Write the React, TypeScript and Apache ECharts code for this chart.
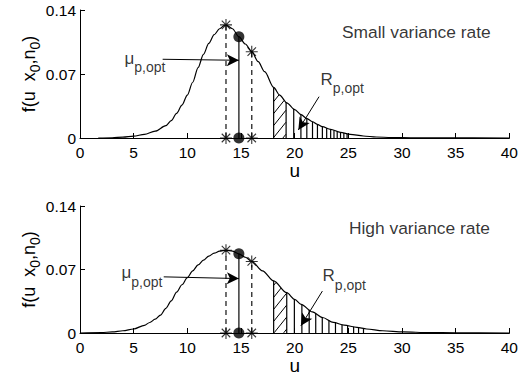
import React, { useEffect, useRef } from 'react';
import * as echarts from 'echarts';

// ---------- data ----------
const xTickStep = 5;
const yTickStep = 0.07;

// Top panel: small variance rate
const topU = [1.7, 3, 4, 5, 6, 7, 8, 8.5, 9, 9.5, 10, 10.5, 11, 11.5, 12, 12.5, 13, 13.5, 13.6, 14.2, 14.8, 15.4, 16.0, 16.6, 17.2, 18.04, 18.6, 19.26, 20.0, 20.6, 21.1, 21.66, 22.1, 22.57, 23.34, 24.26, 25.18, 26.4, 27.6, 29, 31, 34, 40];
const topF = [0, 0.0003, 0.0009, 0.002, 0.004, 0.0075, 0.0135, 0.019, 0.027, 0.036, 0.047, 0.061, 0.077, 0.0915, 0.1035, 0.113, 0.1195, 0.1235, 0.1237, 0.1195, 0.1108, 0.1028, 0.0944, 0.0835, 0.0725, 0.0554, 0.047, 0.0385, 0.031, 0.0255, 0.0215, 0.0178, 0.015, 0.0124, 0.0095, 0.0062, 0.004, 0.0022, 0.0011, 0.0005, 0.0002, 0.0001, 0];

// Bottom panel: high variance rate
const botU = [0, 2, 3, 4, 5, 6, 6.5, 7, 7.5, 8, 8.5, 9, 9.5, 10, 10.5, 11, 11.5, 12, 12.5, 13, 13.6, 14.2, 14.8, 15.4, 16.0, 17.0, 18.04, 19.26, 20.0, 20.6, 21.65, 22.6, 23.6, 24.6, 25.8, 26.7, 28.2, 30.1, 32.5, 35, 40];
const botF = [0, 0.0005, 0.0012, 0.0025, 0.0044, 0.0085, 0.0116, 0.0152, 0.0198, 0.0272, 0.0355, 0.045, 0.0532, 0.061, 0.0685, 0.075, 0.0803, 0.0848, 0.088, 0.0902, 0.0913, 0.0903, 0.0873, 0.0835, 0.0789, 0.0685, 0.0575, 0.0444, 0.0371, 0.0316, 0.0232, 0.0171, 0.0117, 0.0087, 0.0062, 0.0044, 0.0025, 0.0012, 0.0005, 0.0002, 0];

const starU = [13.6, 16.0];
const optU = 14.8;

const topHatchU = [18.04, 19.2, 19.91, 20.58, 21.13, 21.66, 22.12, 22.58, 22.98, 23.35, 23.66, 23.96, 24.27, 24.58, 24.88];
const botHatchU = [18.04, 19.26, 19.97, 20.67, 21.35, 21.96, 22.57, 23.19, 23.8, 24.41, 24.93, 25.49, 25.95, 26.41];

const titles = ['Small variance rate', 'High variance rate'];
const titlePos = [[24.4, 0.116], [25.05, 0.1157]];
const muLabelPos = [[4.15, 0.0875], [3.87, 0.0666]];
const muArrows = [[[7.7, 0.0861], [14.8, 0.085]], [[7.8, 0.0619], [14.8, 0.06]]];
const rLabelPos = [[22.4, 0.0645], [22.6, 0.0633]];
const rArrows = [[[22.27, 0.0452], [20.34, 0.0088]], [[22.58, 0.0462], [20.58, 0.008]]];

const FONT = '"Liberation Sans", Arial, Helvetica, sans-serif';

function interp(us: number[], fs: number[], u: number): number {
  if (u <= us[0]) return fs[0];
  for (let i = 1; i < us.length; i++) {
    if (u <= us[i]) {
      const t = (u - us[i - 1]) / (us[i] - us[i - 1]);
      return fs[i - 1] + t * (fs[i] - fs[i - 1]);
    }
  }
  return fs[fs.length - 1];
}

const STAR = 'path://M0,-10L0,10M-10,0L10,0M-7.07,-7.07L7.07,7.07M-7.07,7.07L7.07,-7.07';

function panelSeries(idx: number, U: number[], F: number[], hatch: number[]) {
  const ax = { xAxisIndex: idx, yAxisIndex: idx };
  const curve = U.map((u, i) => [u, F[i]]);
  const stars = starU.flatMap((u) => [[u, interp(U, F, u)], [u, 0]]);
  const dots = [[optU, interp(U, F, optU)], [optU, 0]];
  const vline = (color: string, width: number, dash: number[] | null) => (params: any, api: any) => {
    const u = api.value(0);
    const f = api.value(1);
    const p0 = api.coord([u, 0]);
    const p1 = api.coord([u, f]);
    return {
      type: 'line',
      shape: { x1: p0[0], y1: p0[1], x2: p1[0], y2: p1[1] },
      style: { stroke: color, lineWidth: width, lineDash: dash || undefined },
    };
  };
  return [
    {
      type: 'custom', ...ax, silent: true, z: 2,
      encode: { x: 0, y: 1 },
      data: hatch.map((u) => [u, interp(U, F, u)]),
      renderItem: vline('#000', 1.2, null),
    },
    {
      type: 'custom', ...ax, silent: true, z: 2,
      encode: { x: [0, 1] },
      data: [[hatch[0], hatch[1]]],
      renderItem: (params: any, api: any) => {
        const uA = api.value(0);
        const uB = api.value(1);
        const pa = api.coord([uA, 0]);
        const pb = api.coord([uB, 0]);
        const xa = pa[0], xb = pb[0], y0 = pa[1];
        const curveY = (px: number) => {
          const u = uA + ((px - xa) / (xb - xa)) * (uB - uA);
          return api.coord([u, interp(U, F, u)])[1];
        };
        const s = 1.25;
        const children: any[] = [];
        const topLeft = curveY(xa);
        for (let c = y0 + s * (xb - xa) - 4; c > topLeft - 2; c -= 12) {
          let first: number[] | null = null;
          let last: number[] | null = null;
          for (let x = xa; x <= xb + 0.01; x += 0.25) {
            const y = c - s * (x - xa);
            if (y <= y0 + 0.01 && y >= curveY(x) - 0.01) {
              if (!first) first = [x, y];
              last = [x, y];
            }
          }
          if (first && last && last[0] - first[0] > 0.5) {
            children.push({ type: 'line', shape: { x1: first[0], y1: first[1], x2: last[0], y2: last[1] }, style: { stroke: '#000', lineWidth: 1 } });
          }
        }
        return { type: 'group', children };
      },
    },
    {
      type: 'custom', ...ax, silent: true, z: 3,
      encode: { x: 0, y: 1 },
      data: starU.map((u) => [u, interp(U, F, u)]),
      renderItem: vline('#333', 1.4, [5, 4]),
    },
    {
      type: 'custom', ...ax, silent: true, z: 3,
      encode: { x: 0, y: 1 },
      data: [[optU, interp(U, F, optU)]],
      renderItem: vline('#444', 1.6, null),
    },
    {
      type: 'line', ...ax, data: curve, showSymbol: false, smooth: 0.3, smoothMonotone: 'x',
      lineStyle: { color: '#000', width: 1.2 }, z: 4, silent: true,
      markLine: {
        silent: true, symbol: ['none', 'arrow'], symbolSize: [9, 12],
        label: { show: false },
        lineStyle: { color: '#000', width: 1, type: 'solid' },
        data: [
          [{ coord: muArrows[idx][0] }, { coord: muArrows[idx][1] }],
          [{ coord: rArrows[idx][0] }, { coord: rArrows[idx][1] }],
        ],
      },
    },
    {
      type: 'scatter', ...ax, data: stars, symbol: STAR, symbolSize: 12, z: 5, silent: true,
      itemStyle: { color: 'transparent', borderColor: '#000', borderWidth: 1.1 },
    },
    {
      type: 'scatter', ...ax, data: dots, symbol: 'circle', symbolSize: 11, z: 5, silent: true,
      itemStyle: { color: '#000' },
    },
    {
      type: 'scatter', ...ax, symbolSize: 0, z: 6, silent: true, clip: false,
      label: {
        show: true, position: 'right', distance: 0, color: '#000', fontFamily: FONT,
        rich: {
          m: { fontSize: 17, fontFamily: FONT, color: '#000' },
          s: { fontSize: 14, fontFamily: FONT, color: '#000', padding: [18, 0, 0, 0] },
          t: { fontSize: 17.4, fontFamily: FONT, color: '#000' },
        },
      },
      data: [
        { value: titlePos[idx], label: { formatter: '{t|' + titles[idx] + '}' } },
        { value: muLabelPos[idx], label: { formatter: '{m|\u03bc}{s|p,opt}' } },
        { value: rLabelPos[idx], label: { formatter: '{m|R}{s|p,opt}' } },
      ],
    },
  ];
}

function axisPair(idx: number) {
  const x = {
    type: 'value', gridIndex: idx, min: 0, max: 40, interval: xTickStep,
    axisLine: { show: true, lineStyle: { color: '#000', width: 1 } },
    axisTick: { show: true, inside: true, length: 5, lineStyle: { color: '#000' } },
    axisLabel: { color: '#000', fontSize: 15.5, fontFamily: FONT, margin: 6 },
    splitLine: { show: false },
    name: 'u', nameLocation: 'middle', nameGap: 23,
    nameTextStyle: { color: '#000', fontSize: 19, fontFamily: FONT },
  };
  const y = {
    type: 'value', gridIndex: idx, min: 0, max: 0.14, interval: yTickStep,
    axisLine: { show: true, lineStyle: { color: '#000', width: 1 } },
    axisTick: { show: true, inside: true, length: 5, lineStyle: { color: '#000' } },
    axisLabel: { color: '#000', fontSize: 15.5, fontFamily: FONT, margin: 4 },
    splitLine: { show: false },
    name: '{n|f(u  x}{s|0}{n|,n}{s|0}{n|)}', nameLocation: 'middle', nameGap: 38,
    nameMoveOverlap: false,
    nameTextStyle: {
      color: '#000', fontFamily: FONT,
      rich: {
        n: { fontSize: 18, fontFamily: FONT, color: '#000' },
        s: { fontSize: 14, fontFamily: FONT, color: '#000', padding: [12, 0, 0, 0] },
      },
    },
  };
  return { x, y };
}

export default function App() {
  const ref = useRef<HTMLDivElement>(null);
  useEffect(() => {
    if (!ref.current) return;
    const chart = echarts.init(ref.current, null, { renderer: 'svg' });
    const a0 = axisPair(0);
    const a1 = axisPair(1);
    chart.setOption({
      animation: false,
      backgroundColor: '#fff',
      textStyle: { fontFamily: FONT },
      grid: [
        { left: 80, top: 10, width: 434, height: 128 },
        { left: 80, top: 206, width: 434, height: 128 },
      ],
      xAxis: [a0.x, a1.x],
      yAxis: [a0.y, a1.y],
      series: [
        ...panelSeries(0, topU, topF, topHatchU),
        ...panelSeries(1, botU, botF, botHatchU),
      ],
    });
    return () => chart.dispose();
  }, []);
  return (
    <div
      ref={ref}
      style={{ position: 'fixed', left: 0, top: 0, width: 521, height: 376, background: '#fff' }}
    />
  );
}
